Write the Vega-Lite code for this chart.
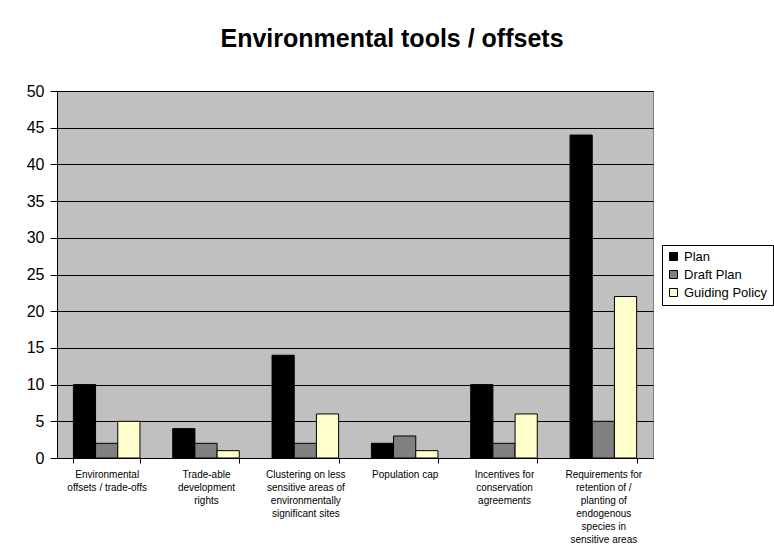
{
  "$schema": "https://vega.github.io/schema/vega-lite/v6.json",
  "autosize": {"type": "none"},
  "width": 596,
  "height": 367,
  "padding": {"left": 57, "top": 91, "right": 121, "bottom": 97},
  "background": "white",
  "title": {
    "text": "Environmental tools / offsets",
    "font": "Liberation Sans",
    "fontSize": 25,
    "fontWeight": "bold",
    "color": "black",
    "anchor": "middle",
    "dx": 37,
    "offset": 31
  },
  "data": {
    "values": [
      {"category": "Environmental offsets / trade-offs", "series": "Plan", "value": 10},
      {"category": "Environmental offsets / trade-offs", "series": "Draft Plan", "value": 2},
      {"category": "Environmental offsets / trade-offs", "series": "Guiding Policy", "value": 5},
      {"category": "Trade-able development rights", "series": "Plan", "value": 4},
      {"category": "Trade-able development rights", "series": "Draft Plan", "value": 2},
      {"category": "Trade-able development rights", "series": "Guiding Policy", "value": 1},
      {"category": "Clustering on less sensitive areas of environmentally significant sites", "series": "Plan", "value": 14},
      {"category": "Clustering on less sensitive areas of environmentally significant sites", "series": "Draft Plan", "value": 2},
      {"category": "Clustering on less sensitive areas of environmentally significant sites", "series": "Guiding Policy", "value": 6},
      {"category": "Population cap", "series": "Plan", "value": 2},
      {"category": "Population cap", "series": "Draft Plan", "value": 3},
      {"category": "Population cap", "series": "Guiding Policy", "value": 1},
      {"category": "Incentives for conservation agreements", "series": "Plan", "value": 10},
      {"category": "Incentives for conservation agreements", "series": "Draft Plan", "value": 2},
      {"category": "Incentives for conservation agreements", "series": "Guiding Policy", "value": 6},
      {"category": "Requirements for retention of / planting of endogenous species in sensitive areas", "series": "Plan", "value": 44},
      {"category": "Requirements for retention of / planting of endogenous species in sensitive areas", "series": "Draft Plan", "value": 5},
      {"category": "Requirements for retention of / planting of endogenous species in sensitive areas", "series": "Guiding Policy", "value": 22}
    ]
  },
  "mark": {"type": "bar", "stroke": "black", "strokeWidth": 1},
  "encoding": {
    "x": {
      "field": "category",
      "type": "nominal",
      "sort": null,
      "scale": {"paddingInner": 0.33, "paddingOuter": 0.165},
      "axis": {
        "title": null,
        "labelAngle": 0,
        "labelFont": "Liberation Sans",
        "labelFontSize": 10,
        "labelColor": "black",
        "labelLineHeight": 13,
        "labelPadding": 6,
        "labelLimit": 200,
        "tickBand": "extent",
        "tickColor": "black",
        "tickSize": 5,
        "domainColor": "black",
        "grid": false,
        "labelExpr": "datum.value == 'Environmental offsets / trade-offs' ? ['Environmental', 'offsets / trade-offs'] : datum.value == 'Trade-able development rights' ? ['Trade-able', 'development', 'rights'] : datum.value == 'Clustering on less sensitive areas of environmentally significant sites' ? ['Clustering on less', 'sensitive areas of', 'environmentally', 'significant sites'] : datum.value == 'Incentives for conservation agreements' ? ['Incentives for', 'conservation', 'agreements'] : datum.value == 'Requirements for retention of / planting of endogenous species in sensitive areas' ? ['Requirements for', 'retention of /', 'planting of', 'endogenous', 'species in', 'sensitive areas'] : datum.value"
      }
    },
    "xOffset": {"field": "series", "type": "nominal", "sort": ["Plan", "Draft Plan", "Guiding Policy"]},
    "y": {
      "field": "value",
      "type": "quantitative",
      "scale": {"domain": [0, 50]},
      "axis": {
        "title": null,
        "values": [0, 5, 10, 15, 20, 25, 30, 35, 40, 45, 50],
        "labelFont": "Liberation Sans",
        "labelFontSize": 16,
        "labelColor": "black",
        "labelPadding": 6,
        "tickColor": "black",
        "tickSize": 7,
        "domainColor": "black",
        "gridColor": "black",
        "gridWidth": 1
      }
    },
    "color": {
      "field": "series",
      "type": "nominal",
      "sort": ["Plan", "Draft Plan", "Guiding Policy"],
      "scale": {"domain": ["Plan", "Draft Plan", "Guiding Policy"], "range": ["#000000", "#808080", "#FFFFCC"]},
      "legend": {
        "title": null,
        "orient": "none",
        "legendX": 605,
        "legendY": 154,
        "symbolType": "square",
        "symbolSize": 64,
        "symbolStrokeColor": "black",
        "symbolStrokeWidth": 1,
        "labelFont": "Liberation Sans",
        "labelFontSize": 13,
        "labelColor": "black",
        "labelOffset": 4,
        "rowPadding": 4,
        "strokeColor": "black",
        "fillColor": "white",
        "padding": 5
      }
    }
  },
  "config": {
    "view": {"fill": "#C0C0C0", "stroke": "#808080"}
  }
}
